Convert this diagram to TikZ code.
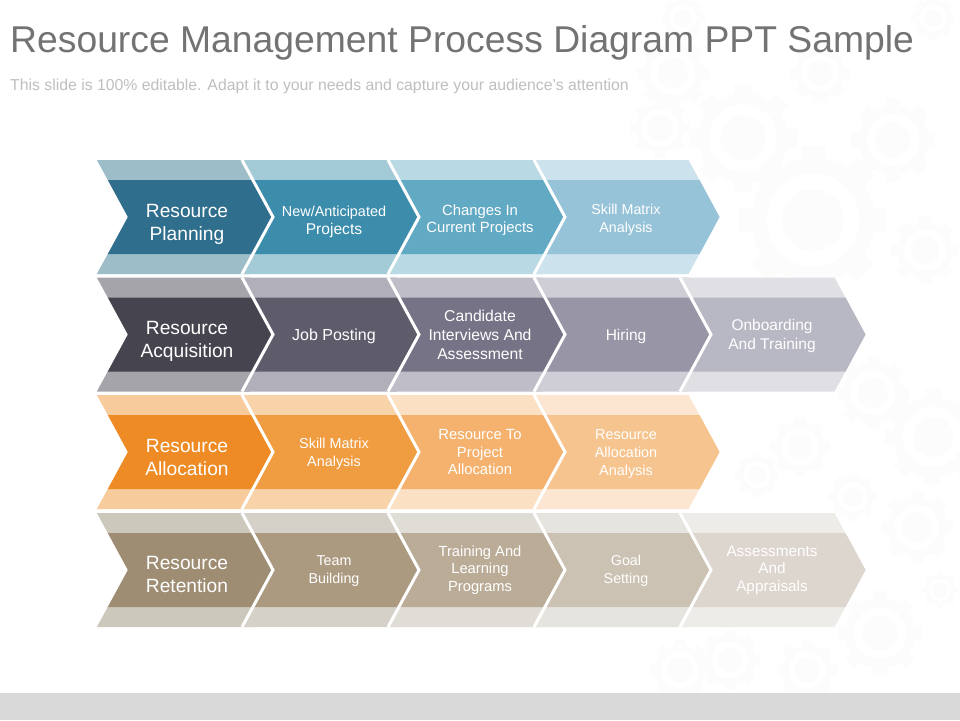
\documentclass[tikz,border=0pt]{standalone}
\usepackage{fontspec}
\setmainfont{Liberation Sans}
\definecolor{plana}{HTML}{2F6E8C}  \definecolor{planalt}{HTML}{9DBDC8}
\definecolor{planb}{HTML}{3C8CAC}  \definecolor{planblt}{HTML}{A3CBD7}
\definecolor{planc}{HTML}{62A9C4}  \definecolor{planclt}{HTML}{B9DAE5}
\definecolor{pland}{HTML}{97C3D8}  \definecolor{plandlt}{HTML}{CCE2EC}
\definecolor{acqa}{HTML}{46444F}   \definecolor{acqalt}{HTML}{A5A4AA}
\definecolor{acqb}{HTML}{5E5C6B}   \definecolor{acqblt}{HTML}{B1B0BA}
\definecolor{acqc}{HTML}{757385}   \definecolor{acqclt}{HTML}{BFBEC8}
\definecolor{acqd}{HTML}{9896A6}   \definecolor{acqdlt}{HTML}{CFCED6}
\definecolor{acqe}{HTML}{B8B7C4}   \definecolor{acqelt}{HTML}{DFDFE4}
\definecolor{alloa}{HTML}{EE8B25}  \definecolor{alloalt}{HTML}{F7CB9C}
\definecolor{allob}{HTML}{F09C41}  \definecolor{alloblt}{HTML}{F8D3AA}
\definecolor{alloc}{HTML}{F4B26E}  \definecolor{alloclt}{HTML}{FBE0C4}
\definecolor{allod}{HTML}{F6C58F}  \definecolor{allodlt}{HTML}{FCE6D2}
\definecolor{reta}{HTML}{9E8D73}   \definecolor{retalt}{HTML}{CDC8BC}
\definecolor{retb}{HTML}{AB9A80}   \definecolor{retblt}{HTML}{D5D1C8}
\definecolor{retc}{HTML}{BAAC97}   \definecolor{retclt}{HTML}{E0DDD6}
\definecolor{retd}{HTML}{CBC2B3}   \definecolor{retdlt}{HTML}{E6E4DE}
\definecolor{rete}{HTML}{DDD6CF}   \definecolor{retelt}{HTML}{EEECE8}
\definecolor{gearfill}{HTML}{FCFCFC}
\tikzset{
    headtext/.style={align=center, text=white, font=\fontsize{19.2}{23}\selectfont},
    steptext/.style={align=center, text=white, font=\fontsize{#1}{17.6}\selectfont},
    widetext/.style={align=center, text=white, font=\fontsize{#1}{18.8}\selectfont},
}
% one chevron: left edge, top edge, colour
\newcommand{\chev}[3]{
    \fill[#3lt] (#1,#2) -- ++(154.5,0) -- ++(31,57) -- ++(-31,57) -- ++(-154.5,0) -- ++(31,-57) -- cycle;
    \fill[#3] (#1+11,#2+20) -- ++(154.5,0) -- ++(20,37) -- ++(-20,37) -- ++(-154.5,0) -- ++(20,-37) -- cycle;
    \draw[white, line width=3pt] (#1,#2) -- ++(31,57) -- ++(-31,57);
}
% faint gear of the background
\newcommand{\gearmark}[3]{
    \foreach \a in {0,45,...,135} {
        \fill[gearfill, shift={(#1,#2)}, rotate=\a] ({-.2*#3},{-1.2*#3}) rectangle ({.2*#3},{1.2*#3});
    }
    \fill[gearfill] (#1,#2) circle (#3);
    \fill[white] (#1,#2) circle ({.75*#3});
    \fill[gearfill] (#1,#2) circle ({.5*#3});
}
\begin{document}
\begin{tikzpicture}[x=1pt, y=-1pt]
    \useasboundingbox (0,0) rectangle (960,720);
    \fill[white] (0,0) rectangle (960,720);

    \foreach \gx/\gy/\gr in {743/138/45, 893/140/35, 813/220/62, 820/73/25, 673/73/30, 683/18/18,
        933/18/18, 660/128/25, 925/250/28, 873/393/30, 933/437/40, 800/447/25, 757/475/18,
        853/497/20, 917/527/30, 940/590/15, 880/633/35, 730/660/25, 807/670/25, 680/670/25} {
        \gearmark{\gx}{\gy}{\gr}
    }

    \fill[white!85!black] (0,693) rectangle (960,720);

    \node[anchor=west, inner sep=0pt, text=black!55, font=\fontsize{37.3}{40}\selectfont] (title) at (10,43) {Resource Management Process Diagram PPT Sample};
    \node[anchor=west, inner sep=0pt, text=black!25, font=\fontsize{15.8}{17}\selectfont] (subtitle) at (10,86) {This slide is 100\% editable. Adapt it to your needs and capture your audience's attention};

    \foreach \px/\col in {95/plana, 242/planb, 388/planc, 534/pland} {
        \chev{\px}{160}{\col}
    }
    \foreach \px/\col in {95/acqa, 242/acqb, 388/acqc, 534/acqd, 680/acqe} {
        \chev{\px}{277.5}{\col}
    }
    \foreach \px/\col in {95/alloa, 242/allob, 388/alloc, 534/allod} {
        \chev{\px}{395}{\col}
    }
    \foreach \px/\col in {95/reta, 242/retb, 388/retc, 534/retd, 680/rete} {
        \chev{\px}{513}{\col}
    }

    \node[headtext] (planhead) at (187,224) {Resource\\Planning};
    \node[steptext=15.6] (plantwo) at (334,222) {{\fontsize{14.4}{17.6}\selectfont New/Anticipated}\\Projects};
    \node[steptext=14.85] (planthree) at (480,220) {Changes In\\Current Projects};
    \node[steptext=14.3] (planfour) at (626,220) {Skill Matrix\\Analysis};

    \node[headtext] (acqhead) at (187,341) {Resource\\Acquisition};
    \node[steptext=16] (acqtwo) at (334,336) {Job Posting};
    \node[widetext=15.7] (acqthree) at (480,335) {Candidate\\Interviews And\\Assessment};
    \node[steptext=15.5] (acqfour) at (626,336) {Hiring};
    \node[widetext=15.5] (acqfive) at (772,336) {Onboarding\\And Training};

    \node[headtext] (allohead) at (187,457) {Resource\\Allocation};
    \node[steptext=14.4] (allotwo) at (334,454) {Skill Matrix\\Analysis};
    \node[steptext=14.8] (allothree) at (480,452) {Resource To\\Project\\Allocation};
    \node[steptext=14.4] (allofour) at (626,454) {Resource\\Allocation\\Analysis};

    \node[headtext] (rethead) at (187,574) {Resource\\Retention};
    \node[steptext=14.3] (rettwo) at (334,571) {Team\\Building};
    \node[steptext=14.7] (retthree) at (480,570) {Training And\\Learning\\Programs};
    \node[steptext=14.3] (retfour) at (626,571) {Goal\\Setting};
    \node[steptext=15.3] (retfive) at (772,570) {Assessments\\And\\Appraisals};
\end{tikzpicture}
\end{document}
